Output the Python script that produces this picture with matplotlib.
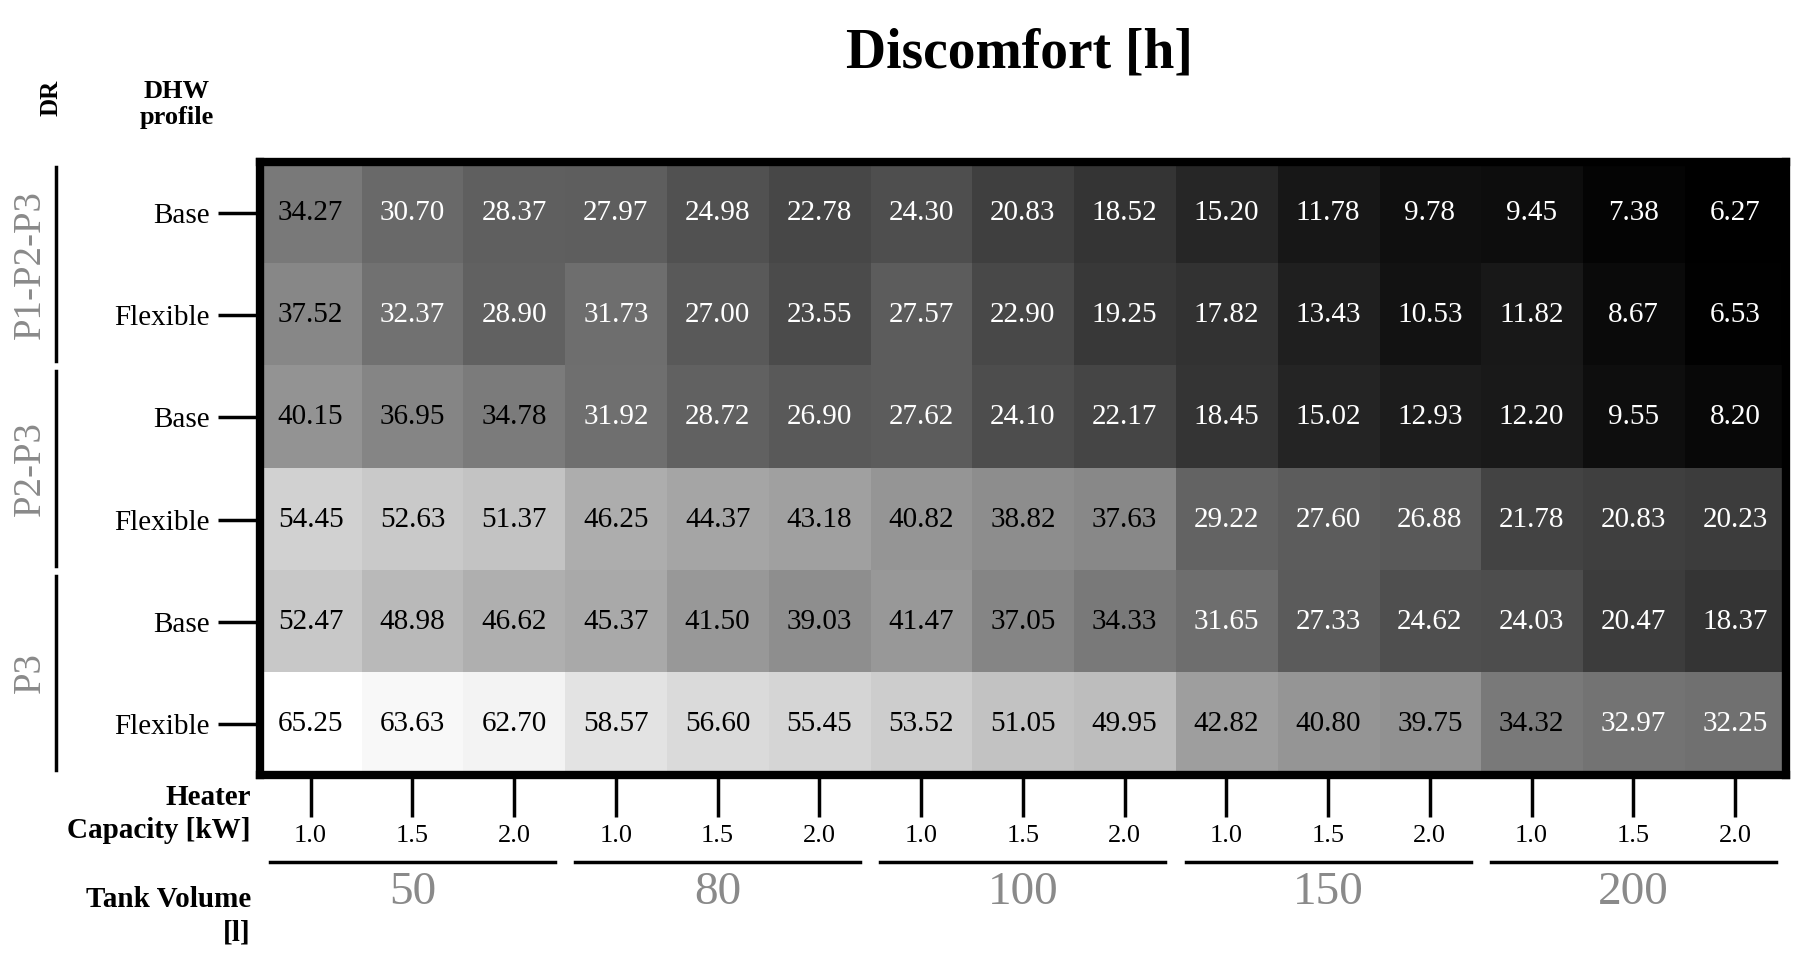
import matplotlib
matplotlib.use("Agg")
import matplotlib.pyplot as plt
import numpy as np

plt.rcParams['font.family'] = ['Liberation Serif', 'DejaVu Serif']

dr_groups = ["P1-P2-P3", "P2-P3", "P3"]
profiles = ["Base", "Flexible"] * 3
capacities = ["1.0", "1.5", "2.0"] * 5
volumes = ["50", "80", "100", "150", "200"]
values = np.array([
    [34.27, 30.70, 28.37, 27.97, 24.98, 22.78, 24.30, 20.83, 18.52, 15.20, 11.78, 9.78, 9.45, 7.38, 6.27],
    [37.52, 32.37, 28.90, 31.73, 27.00, 23.55, 27.57, 22.90, 19.25, 17.82, 13.43, 10.53, 11.82, 8.67, 6.53],
    [40.15, 36.95, 34.78, 31.92, 28.72, 26.90, 27.62, 24.10, 22.17, 18.45, 15.02, 12.93, 12.20, 9.55, 8.20],
    [54.45, 52.63, 51.37, 46.25, 44.37, 43.18, 40.82, 38.82, 37.63, 29.22, 27.60, 26.88, 21.78, 20.83, 20.23],
    [52.47, 48.98, 46.62, 45.37, 41.50, 39.03, 41.47, 37.05, 34.33, 31.65, 27.33, 24.62, 24.03, 20.47, 18.37],
    [65.25, 63.63, 62.70, 58.57, 56.60, 55.45, 53.52, 51.05, 49.95, 42.82, 40.80, 39.75, 34.32, 32.97, 32.25],
])

fig = plt.figure(figsize=(18.04, 9.75), dpi=100)
ax = fig.add_axes([0.144, 0.205, 0.846, 0.629])
nr, nc = values.shape
ax.imshow(values, cmap='gray', vmin=values.min(), vmax=values.max(), aspect='auto')
for i in range(nr):
    for j in range(nc):
        v = values[i, j]
        ax.text(j, i, f"{v:.2f}", ha='center', va='center', fontsize=21,
                color='black' if v > 33.5 else 'white')
for s in ax.spines.values():
    s.set_linewidth(6)
ax.set_xticks(range(nc))
ax.set_xticklabels(capacities, fontsize=19)
ax.tick_params(axis='x', length=30, width=2.5, pad=6, direction='out')
ax.set_yticks(range(nr))
ax.set_yticklabels(profiles, fontsize=21)
ax.tick_params(axis='y', length=30, width=2.5, pad=6)

# DR group labels
for g, name in enumerate(dr_groups):
    y0, y1 = 2 * g - 0.45, 2 * g + 1.45
    ax.plot([-2.5, -2.5], [y0, y1], color='black', lw=2.5, clip_on=False)
    ax.text(-2.75, 2 * g + 0.5, name, rotation=90, ha='center', va='center',
            fontsize=28, color='#8a8a8a')

# Tank volume groups
for k, v in enumerate(volumes):
    x0, x1 = 3 * k - 0.5 + 0.1, 3 * k + 2.5 - 0.1
    ax.plot([x0, x1], [6.35, 6.35], color='black', lw=2.5, clip_on=False)
    ax.text(3 * k + 1, 6.65, v, ha='center', va='center', fontsize=34, color='#8a8a8a')
ax.set_xlim(-0.5, nc - 0.5)
ax.set_ylim(nr - 0.5, -0.5)

fig.text(0.565, 0.945, "Discomfort [h]", ha='center', va='center', fontsize=40, fontweight='bold')
fig.text(0.028, 0.9, "DR", rotation=90, ha='center', va='center', fontsize=18, fontweight='bold')
fig.text(0.098, 0.893, "DHW\nprofile", ha='center', va='center', fontsize=19, fontweight='bold')
fig.text(0.139, 0.165, "Heater\nCapacity [kW]", ha='right', va='center', fontsize=21, fontweight='bold', linespacing=1.3)
fig.text(0.139, 0.06, "Tank Volume\n[l]", ha='right', va='center', fontsize=21, fontweight='bold', linespacing=1.3)

fig.savefig("out.png", dpi=100)
